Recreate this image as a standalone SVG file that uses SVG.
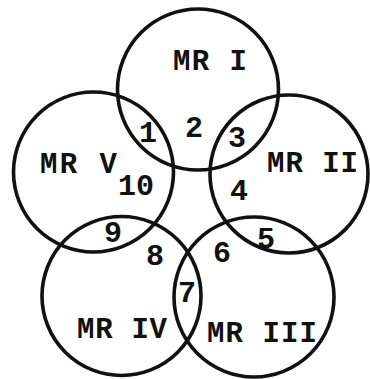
<svg xmlns="http://www.w3.org/2000/svg" width="370" height="379" viewBox="0 0 370 379">
<style>
.c{fill:none;stroke:#111;stroke-width:3.6}
text{font-family:"Liberation Mono","Courier New",monospace;font-weight:bold;fill:#111;font-size:29px}
.d{text-anchor:middle;font-size:30px}
</style>
<rect width="370" height="379" fill="#fff"/>
<g id="circle-I"><circle class="c" cx="198" cy="89.5" r="80.5"/><text x="173" y="70" textLength="74" lengthAdjust="spacing">MR I</text></g>
<g id="circle-II"><circle class="c" cx="289" cy="174" r="79"/><text x="267" y="172" textLength="91" lengthAdjust="spacing">MR II</text></g>
<g id="circle-III"><circle class="c" cx="254" cy="297" r="80"/><text x="207" y="342" textLength="110" lengthAdjust="spacing">MR III</text></g>
<g id="circle-IV"><circle class="c" cx="121.5" cy="296" r="79.5"/><text x="77" y="338" textLength="90" lengthAdjust="spacing">MR IV</text></g>
<g id="circle-V"><circle class="c" cx="93.5" cy="172" r="80"/><text x="40" y="173" textLength="77" lengthAdjust="spacing">MR V</text></g>
<g id="regions">
<text class="d" x="148" y="142">1</text>
<text class="d" x="194" y="137">2</text>
<text class="d" x="237" y="147">3</text>
<text class="d" x="239" y="200">4</text>
<text class="d" x="266" y="248">5</text>
<text class="d" x="222" y="262">6</text>
<text class="d" x="187" y="302">7</text>
<text class="d" x="155" y="265">8</text>
<text class="d" x="113" y="242">9</text>
<text class="d" x="136" y="195">10</text>
</g>
</svg>
